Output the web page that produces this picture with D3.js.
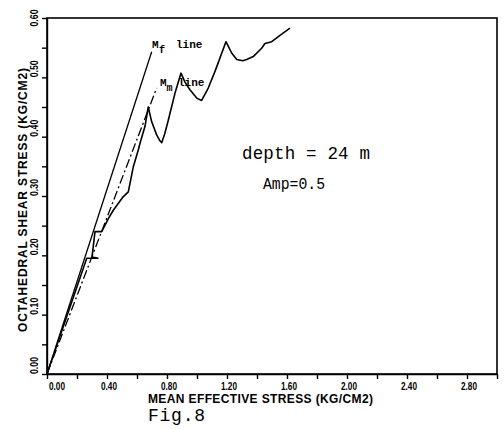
<!DOCTYPE html>
<html>
<head>
<meta charset="utf-8">
<script src="https://cdn.jsdelivr.net/npm/d3@7"></script>
<style>
  html, body { margin: 0; padding: 0; background: #fff; }
  svg { display: block; }
</style>
</head>
<body>
<svg id="chart" width="504" height="429"></svg>
<script>
// effective stress path (kg/cm2)
const pathP = [0, 0.265, 0.34, 0.30, 0.32, 0.365, 0.409, 0.442, 0.509, 0.542, 0.553, 0.575, 0.609, 0.620, 0.653, 0.675,
  0.698, 0.731, 0.750, 0.765, 0.785, 0.809, 0.853, 0.893,
  0.920, 0.953, 0.998, 1.031, 1.075, 1.120, 1.193,
  1.231, 1.265, 1.305, 1.331, 1.375, 1.431, 1.453, 1.498, 1.560, 1.620];
const pathQ = [0, 0.195, 0.195, 0.197, 0.240, 0.240, 0.262, 0.276, 0.299, 0.307, 0.321, 0.349, 0.378, 0.389, 0.417, 0.450,
  0.425, 0.403, 0.394, 0.390, 0.405, 0.428, 0.473, 0.507,
  0.492, 0.479, 0.465, 0.461, 0.482, 0.510, 0.560,
  0.541, 0.530, 0.528, 0.530, 0.535, 0.549, 0.557, 0.560, 0.572, 0.583];

// failure line and phase transformation line
const mfP = [0, 0.698];
const mfQ = [0, 0.543];
const mmP = [0, 0.731];
const mmQ = [0, 0.482];

const xTickVals = d3.range(0, 16).map(i => i * 0.2);
const xLabelVals = [0, 0.4, 0.8, 1.2, 1.6, 2.0, 2.4, 2.8];
const xLabels = ["0.00", "0.40", "0.80", "1.20", "1.60", "2.00", "2.40", "2.80"];
const yTickVals = d3.range(0, 13).map(i => i * 0.05);
const yLabelVals = [0, 0.1, 0.2, 0.3, 0.4, 0.5, 0.6];
const yLabels = ["0.00", "0.10", "0.20", "0.30", "0.40", "0.50", "0.60"];

const svg = d3.select("#chart");

const x = d3.scaleLinear().domain([0, 3]).range([47, 497]);
const y = d3.scaleLinear().domain([0, 0.6]).range([374, 18]);

const sans = "'Liberation Sans', Arial, sans-serif";
const mono = "'Liberation Mono', 'Courier New', monospace";

// frame
svg.append("rect")
  .attr("x", x(0)).attr("y", y(0.6))
  .attr("width", x(3) - x(0)).attr("height", y(0) - y(0.6))
  .attr("fill", "none").attr("stroke", "#000").attr("stroke-width", 1.6);

const xAxis = svg.append("g")
  .attr("transform", `translate(0,${y(0)})`)
  .call(d3.axisBottom(x).tickValues(xTickVals).tickSize(5).tickSizeOuter(0).tickFormat(""));
const yAxis = svg.append("g")
  .attr("transform", `translate(${x(0)},0)`)
  .call(d3.axisLeft(y).tickValues(yTickVals).tickSize(5).tickSizeOuter(0).tickFormat(""));
[xAxis, yAxis].forEach(g => {
  g.selectAll("path,line").attr("stroke", "#000").attr("stroke-width", 1.4);
});

// tick labels
svg.append("g").selectAll("text")
  .data(xLabelVals)
  .join("text")
  .attr("x", (d, i) => x(d) + (i === 0 ? 10 : 2))
  .attr("y", 390)
  .attr("text-anchor", "middle")
  .attr("font-family", sans).attr("font-weight", "bold").attr("font-size", 10)
  .attr("textLength", 16).attr("lengthAdjust", "spacingAndGlyphs")
  .text((d, i) => xLabels[i]);

svg.append("g").selectAll("text")
  .data(yLabelVals)
  .join("text")
  .attr("transform", d => `translate(38,${y(d)}) rotate(-90)`)
  .attr("text-anchor", d => d === 0.6 ? "middle" : "start")
  .attr("font-family", sans).attr("font-weight", "bold").attr("font-size", 10)
  .attr("textLength", 17).attr("lengthAdjust", "spacingAndGlyphs")
  .text((d, i) => yLabels[i]);

// axis titles
svg.append("text")
  .attr("transform", "translate(27,200) rotate(-90)")
  .attr("text-anchor", "middle")
  .attr("font-family", sans).attr("font-weight", "bold").attr("font-size", 12)
  .attr("textLength", 264).attr("lengthAdjust", "spacing")
  .text("OCTAHEDRAL SHEAR STRESS (KG/CM2)");

svg.append("text")
  .attr("x", 148).attr("y", 403)
  .attr("font-family", sans).attr("font-weight", "bold").attr("font-size", 12)
  .attr("textLength", 225).attr("lengthAdjust", "spacing")
  .text("MEAN EFFECTIVE STRESS (KG/CM2)");

// lines
const line = d3.line().x(d => x(d[0])).y(d => y(d[1]));

svg.append("path")
  .datum(d3.zip(mfP, mfQ))
  .attr("d", line)
  .attr("fill", "none").attr("stroke", "#000").attr("stroke-width", 1.3);

svg.append("path")
  .datum(d3.zip(mmP, mmQ))
  .attr("d", line)
  .attr("fill", "none").attr("stroke", "#000").attr("stroke-width", 1.3)
  .attr("stroke-dasharray", "9,3,2,3");

svg.append("path")
  .datum(d3.zip(pathP, pathQ))
  .attr("d", line)
  .attr("fill", "none").attr("stroke", "#000").attr("stroke-width", 1.6)
  .attr("stroke-linejoin", "round");

// line labels
const mf = svg.append("text")
  .attr("font-family", mono).attr("font-weight", "bold").attr("font-size", 11);
mf.append("tspan").attr("x", 152).attr("y", 48).text("M");
mf.append("tspan").attr("x", 159).attr("y", 53).attr("font-size", 10).text("f");
mf.append("tspan").attr("x", 176).attr("y", 48).text("line");

const mm = svg.append("text")
  .attr("font-family", mono).attr("font-weight", "bold").attr("font-size", 11);
mm.append("tspan").attr("x", 160).attr("y", 86).text("M");
mm.append("tspan").attr("x", 166.5).attr("y", 91).attr("font-size", 10).text("m");
mm.append("tspan").attr("x", 178).attr("y", 86).text("line");

// annotations
svg.append("text")
  .attr("x", 242).attr("y", 159)
  .attr("font-family", mono).attr("font-size", 17.5)
  .attr("textLength", 128).attr("lengthAdjust", "spacing")
  .text("depth = 24 m");

svg.append("text")
  .attr("x", 263).attr("y", 189)
  .attr("font-family", mono).attr("font-size", 16)
  .attr("textLength", 62).attr("lengthAdjust", "spacingAndGlyphs")
  .text("Amp=0.5");

svg.append("text")
  .attr("x", 148).attr("y", 421)
  .attr("font-family", mono).attr("font-size", 18)
  .attr("textLength", 57).attr("lengthAdjust", "spacing")
  .text("Fig.8");
</script>
</body>
</html>
